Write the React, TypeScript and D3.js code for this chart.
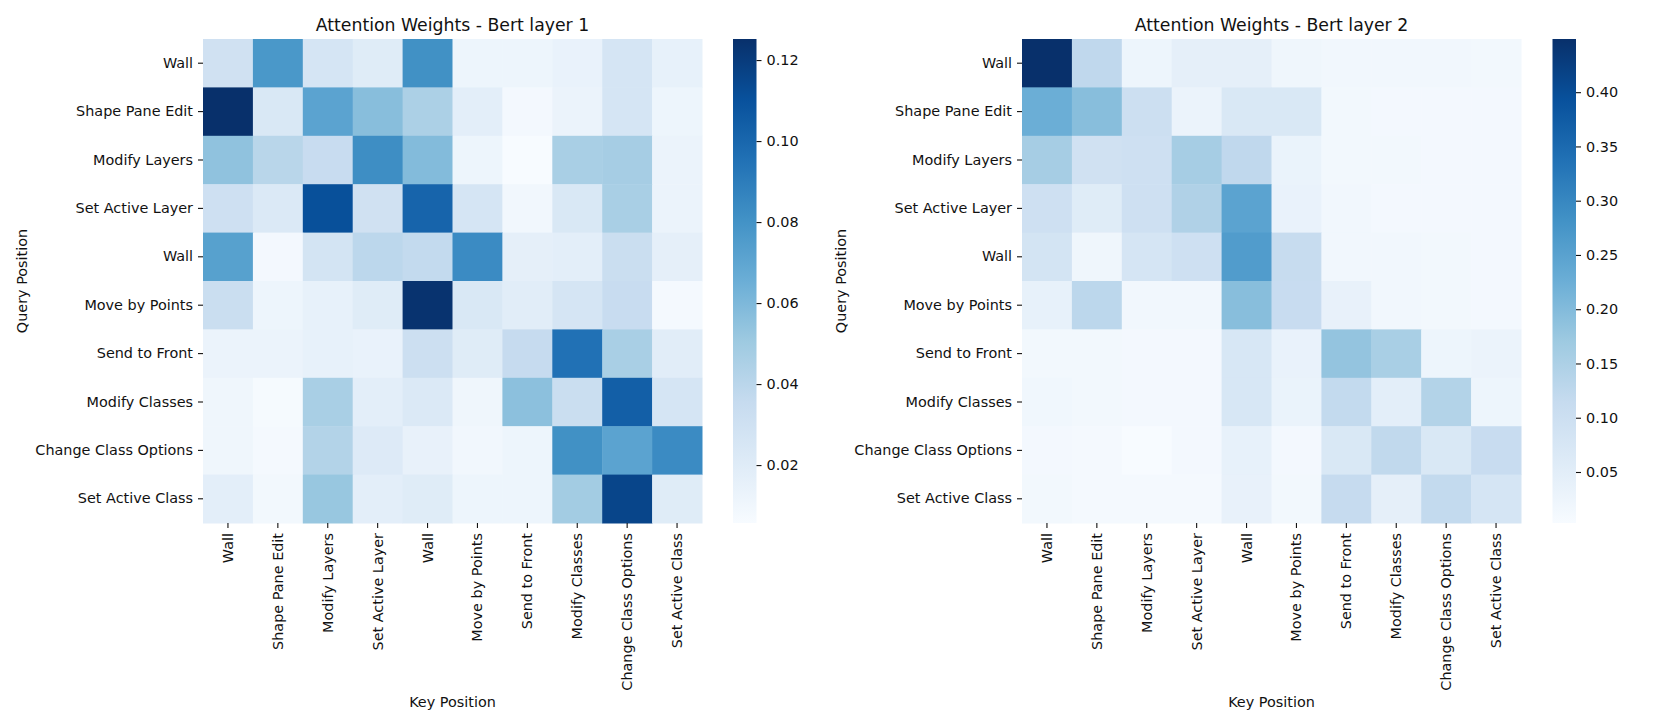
import React, { useRef, useEffect } from 'react';
import * as d3 from 'd3';

// token labels (same on both axes)
const tokens = [
    "Wall", "Shape Pane Edit", "Modify Layers", "Set Active Layer", "Wall",
    "Move by Points", "Send to Front", "Modify Classes", "Change Class Options", "Set Active Class",
];

// rows = query, cols = key
const layer1Weights = [
    [0.0296, 0.0774, 0.0260, 0.0200, 0.0810, 0.0117, 0.0117, 0.0141, 0.0260, 0.0153],
    [0.1252, 0.0236, 0.0714, 0.0571, 0.0451, 0.0177, 0.0081, 0.0129, 0.0260, 0.0117],
    [0.0547, 0.0404, 0.0344, 0.0822, 0.0583, 0.0117, 0.0057, 0.0463, 0.0475, 0.0129],
    [0.0308, 0.0224, 0.1109, 0.0296, 0.1013, 0.0260, 0.0093, 0.0236, 0.0463, 0.0129],
    [0.0726, 0.0081, 0.0272, 0.0392, 0.0368, 0.0834, 0.0165, 0.0177, 0.0332, 0.0165],
    [0.0332, 0.0117, 0.0153, 0.0200, 0.1240, 0.0236, 0.0188, 0.0260, 0.0344, 0.0075],
    [0.0129, 0.0129, 0.0153, 0.0141, 0.0320, 0.0200, 0.0356, 0.0953, 0.0463, 0.0188],
    [0.0105, 0.0069, 0.0463, 0.0177, 0.0224, 0.0105, 0.0559, 0.0332, 0.1037, 0.0260],
    [0.0105, 0.0075, 0.0427, 0.0212, 0.0147, 0.0093, 0.0117, 0.0810, 0.0714, 0.0834],
    [0.0177, 0.0087, 0.0523, 0.0177, 0.0200, 0.0117, 0.0117, 0.0487, 0.1156, 0.0200],
];

const layer2Weights = [
    [0.4490, 0.1234, 0.0253, 0.0431, 0.0431, 0.0208, 0.0164, 0.0164, 0.0164, 0.0142],
    [0.2260, 0.1948, 0.1011, 0.0298, 0.0699, 0.0699, 0.0142, 0.0119, 0.0119, 0.0119],
    [0.1591, 0.0922, 0.0967, 0.1591, 0.1234, 0.0320, 0.0142, 0.0142, 0.0119, 0.0119],
    [0.0967, 0.0565, 0.0967, 0.1457, 0.2483, 0.0342, 0.0164, 0.0119, 0.0119, 0.0119],
    [0.0833, 0.0208, 0.0788, 0.0967, 0.2617, 0.1123, 0.0164, 0.0164, 0.0142, 0.0119],
    [0.0387, 0.1279, 0.0164, 0.0164, 0.1948, 0.1100, 0.0365, 0.0164, 0.0142, 0.0119],
    [0.0142, 0.0142, 0.0119, 0.0119, 0.0744, 0.0342, 0.1814, 0.1546, 0.0253, 0.0298],
    [0.0186, 0.0142, 0.0119, 0.0119, 0.0744, 0.0320, 0.1190, 0.0476, 0.1413, 0.0253],
    [0.0119, 0.0097, 0.0030, 0.0119, 0.0387, 0.0119, 0.0699, 0.1212, 0.0699, 0.1100],
    [0.0142, 0.0097, 0.0097, 0.0097, 0.0365, 0.0142, 0.1145, 0.0431, 0.1190, 0.0788],
];

const cbTicks1 = [0.02, 0.04, 0.06, 0.08, 0.10, 0.12];
const cbTicks2 = [0.05, 0.10, 0.15, 0.20, 0.25, 0.30, 0.35, 0.40];

// matplotlib "Blues"
const BLUES = ["#f7fbff", "#deebf7", "#c6dbef", "#9ecae1", "#6baed6", "#4292c6", "#2171b5", "#08519c", "#08306b"];

const W = 1661;
const H = 727;
const FONT = "DejaVu Sans, sans-serif";
const TXT = "#111";

interface Panel {
    title: string;
    weights: number[][];
    ticks: number[];
    x0: number;
    cbX: number;
    ylabelX: number;
    id: string;
}

const panels: Panel[] = [
    { title: "Attention Weights - Bert layer 1", weights: layer1Weights, ticks: cbTicks1, x0: 203, cbX: 733, ylabelX: 22, id: "g1" },
    { title: "Attention Weights - Bert layer 2", weights: layer2Weights, ticks: cbTicks2, x0: 1022, cbX: 1552.5, ylabelX: 841, id: "g2" },
];

export default function App() {
    const svgRef = useRef<SVGSVGElement>(null);

    useEffect(() => {
        if (!svgRef.current) return;
        const svg = d3.select(svgRef.current);
        svg.selectAll("*").remove();

        const top = 39, bottom = 523;
        const hmW = 499;
        const cbW = 23.5;

        const cmap = d3.scaleLinear<string>()
            .domain(BLUES.map((_, i) => i / (BLUES.length - 1)))
            .range(BLUES)
            .interpolate(d3.interpolateRgb);

        const defs = svg.append("defs");

        panels.forEach(p => {
            const flat = p.weights.flat();
            const vmin = d3.min(flat) as number;
            const vmax = d3.max(flat) as number;
            const norm = d3.scaleLinear().domain([vmin, vmax]).range([0, 1]);

            const x = d3.scaleBand<number>().domain(d3.range(tokens.length)).range([p.x0, p.x0 + hmW]);
            const y = d3.scaleBand<number>().domain(d3.range(tokens.length)).range([top, bottom]);

            const g = svg.append("g");

            // cells
            p.weights.forEach((row, r) => {
                g.selectAll(null)
                    .data(row)
                    .enter()
                    .append("rect")
                    .attr("x", (_, c) => x(c)!)
                    .attr("y", y(r)!)
                    .attr("width", x.bandwidth() + 0.5)
                    .attr("height", y.bandwidth() + 0.5)
                    .attr("fill", d => cmap(norm(d)));
            });

            // y axis
            const yAx = g.append("g")
                .attr("transform", `translate(${p.x0},0)`)
                .call(d3.axisLeft(y).tickSize(5).tickPadding(5).tickFormat(i => tokens[i as number]));
            yAx.select(".domain").remove();
            yAx.selectAll("line").attr("stroke", TXT).attr("stroke-width", 1.1);
            yAx.selectAll("text").attr("font-family", FONT).attr("font-size", "14.4px").attr("fill", TXT);

            // x axis, labels rotated
            const xAx = g.append("g")
                .attr("transform", `translate(0,${bottom})`)
                .call(d3.axisBottom(x).tickSize(5).tickFormat(i => tokens[i as number]));
            xAx.select(".domain").remove();
            xAx.selectAll("line").attr("stroke", TXT).attr("stroke-width", 1.1);
            xAx.selectAll("text")
                .attr("font-family", FONT).attr("font-size", "14.4px").attr("fill", TXT)
                .attr("transform", "rotate(-90)")
                .attr("text-anchor", "end")
                .attr("x", -10).attr("y", 0).attr("dy", "0.35em");

            // title + axis labels
            g.append("text")
                .attr("x", p.x0 + hmW / 2).attr("y", 30.5)
                .attr("text-anchor", "middle")
                .attr("font-family", FONT).attr("font-size", "17.3px").attr("fill", TXT)
                .text(p.title);

            g.append("text")
                .attr("x", p.x0 + hmW / 2).attr("y", 707)
                .attr("text-anchor", "middle")
                .attr("font-family", FONT).attr("font-size", "14.4px").attr("fill", TXT)
                .text("Key Position");

            g.append("text")
                .attr("transform", `translate(${p.ylabelX},${(top + bottom) / 2}) rotate(-90)`)
                .attr("text-anchor", "middle").attr("dy", "0.35em")
                .attr("font-family", FONT).attr("font-size", "14.4px").attr("fill", TXT)
                .text("Query Position");

            // colorbar
            const grad = defs.append("linearGradient")
                .attr("id", `cb-${p.id}`)
                .attr("x1", 0).attr("y1", 1).attr("x2", 0).attr("y2", 0);
            BLUES.forEach((c, i) => {
                grad.append("stop")
                    .attr("offset", `${(i / (BLUES.length - 1)) * 100}%`)
                    .attr("stop-color", c);
            });
            g.append("rect")
                .attr("x", p.cbX).attr("y", top)
                .attr("width", cbW).attr("height", bottom - top)
                .attr("fill", `url(#cb-${p.id})`);

            const cbScale = d3.scaleLinear().domain([vmin, vmax]).range([bottom, top]);
            const cbAx = g.append("g")
                .attr("transform", `translate(${p.cbX + cbW},0)`)
                .call(d3.axisRight(cbScale).tickValues(p.ticks).tickSize(5).tickPadding(5).tickFormat(d3.format(".2f")));
            cbAx.select(".domain").remove();
            cbAx.selectAll("line").attr("stroke", TXT).attr("stroke-width", 1.1);
            cbAx.selectAll("text").attr("font-family", FONT).attr("font-size", "14.4px").attr("fill", TXT);
        });
    }, []);

    return (
        <svg
            ref={svgRef}
            width={W}
            height={H}
            viewBox={`0 0 ${W} ${H}`}
            style={{ position: "absolute", left: 0, top: 0, background: "#fff" }}
        />
    );
}
